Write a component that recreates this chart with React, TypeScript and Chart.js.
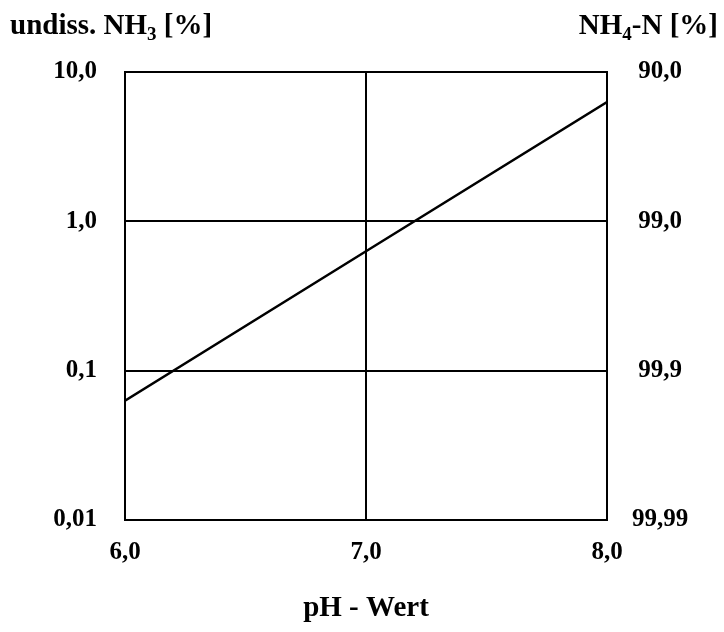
import React, { useEffect, useRef } from "react";
import { Chart, registerables } from "chart.js";

Chart.register(...registerables);

// pH values and the undissociated NH3 share
const phValues = [6.0, 7.0, 8.0];
const nh3Percent = [0.063, 0.63, 6.3];

// tick positions and labels
const yTicks = [0.01, 0.1, 1, 10];
const yLeftLabels = ["0,01", "0,1", "1,0", "10,0"];
const yRightLabels = ["99,99", "99,9", "99,0", "90,0"];
const xTicks = [6, 7, 8];
const xLabels = ["6,0", "7,0", "8,0"];

const FONT = "'Liberation Serif', 'Times New Roman', serif";

export default function App() {
  const canvasRef = useRef<HTMLCanvasElement | null>(null);

  useEffect(() => {
    const canvas = canvasRef.current;
    if (!canvas) return;
    const tickFont = { family: FONT, size: 25, weight: "bold" as const };
    const chart = new Chart(canvas, {
      type: "line",
      data: {
        datasets: [
          {
            data: phValues.map((x, i) => ({ x, y: nh3Percent[i] })),
            borderColor: "#000",
            borderWidth: 2.5,
            pointRadius: 0,
            fill: false,
            tension: 0,
          },
        ],
      },
      options: {
        responsive: false,
        animation: false,
        layout: { padding: { top: 72, left: 0, right: 0, bottom: 0 } },
        plugins: { legend: { display: false }, tooltip: { enabled: false } },
        scales: {
          x: {
            type: "linear",
            min: 6,
            max: 8,
            afterBuildTicks: (s: any) => {
              s.ticks = xTicks.map((v) => ({ value: v }));
            },
            afterFit: (s: any) => {
              s.height = 112;
            },
            ticks: {
              color: "#000",
              font: tickFont,
              padding: 18,
              maxRotation: 0,
              callback: (v: any) => xLabels[xTicks.indexOf(Number(v))],
            },
            grid: { color: "#000", lineWidth: 2, drawTicks: false },
            border: { display: true, color: "#000", width: 2 },
            title: {
              display: true,
              text: "pH - Wert",
              color: "#000",
              font: { family: FONT, size: 29, weight: "bold" },
              padding: { top: 0, bottom: 6 },
            },
          },
          y: {
            type: "logarithmic",
            position: "left",
            min: 0.01,
            max: 10,
            afterBuildTicks: (s: any) => {
              s.ticks = yTicks.map((v) => ({ value: v }));
            },
            afterFit: (s: any) => {
              s.width = 125;
            },
            ticks: {
              color: "#000",
              font: tickFont,
              padding: 28,
              callback: (v: any) => {
                const i = yTicks.findIndex((t) => Math.abs(t - Number(v)) < 1e-9);
                return i >= 0 ? yLeftLabels[i] : "";
              },
            },
            grid: { color: "#000", lineWidth: 2, drawTicks: false },
            border: { display: true, color: "#000", width: 2 },
          },
          y2: {
            type: "logarithmic",
            position: "right",
            min: 0.01,
            max: 10,
            afterBuildTicks: (s: any) => {
              s.ticks = yTicks.map((v) => ({ value: v }));
            },
            afterFit: (s: any) => {
              s.width = 117;
            },
            ticks: {
              color: "#000",
              font: tickFont,
              padding: 25,
              crossAlign: "center",
              callback: (v: any) => {
                const i = yTicks.findIndex((t) => Math.abs(t - Number(v)) < 1e-9);
                return i >= 0 ? yRightLabels[i] : "";
              },
            },
            grid: { display: false, drawTicks: false },
            border: { display: true, color: "#000", width: 2 },
          },
        },
      } as any,
    });
    return () => chart.destroy();
  }, []);

  const titleStyle: React.CSSProperties = {
    position: "absolute",
    top: 7,
    fontFamily: FONT,
    fontWeight: "bold",
    fontSize: 29,
    color: "#000",
    whiteSpace: "nowrap",
    lineHeight: "34px",
  };
  const subStyle: React.CSSProperties = { fontSize: 19, verticalAlign: "-6px", lineHeight: 0 };

  return (
    <div
      style={{
        position: "fixed",
        left: 0,
        top: 0,
        width: 724,
        height: 632,
        background: "#fff",
      }}
    >
      <canvas ref={canvasRef} width={724} height={632} style={{ width: 724, height: 632, display: "block" }} />
      <div style={{ ...titleStyle, left: 10 }}>
        undiss. NH<span style={subStyle}>3</span> [%]
      </div>
      <div style={{ ...titleStyle, right: 6 }}>
        NH<span style={subStyle}>4</span>-N [%]
      </div>
    </div>
  );
}
